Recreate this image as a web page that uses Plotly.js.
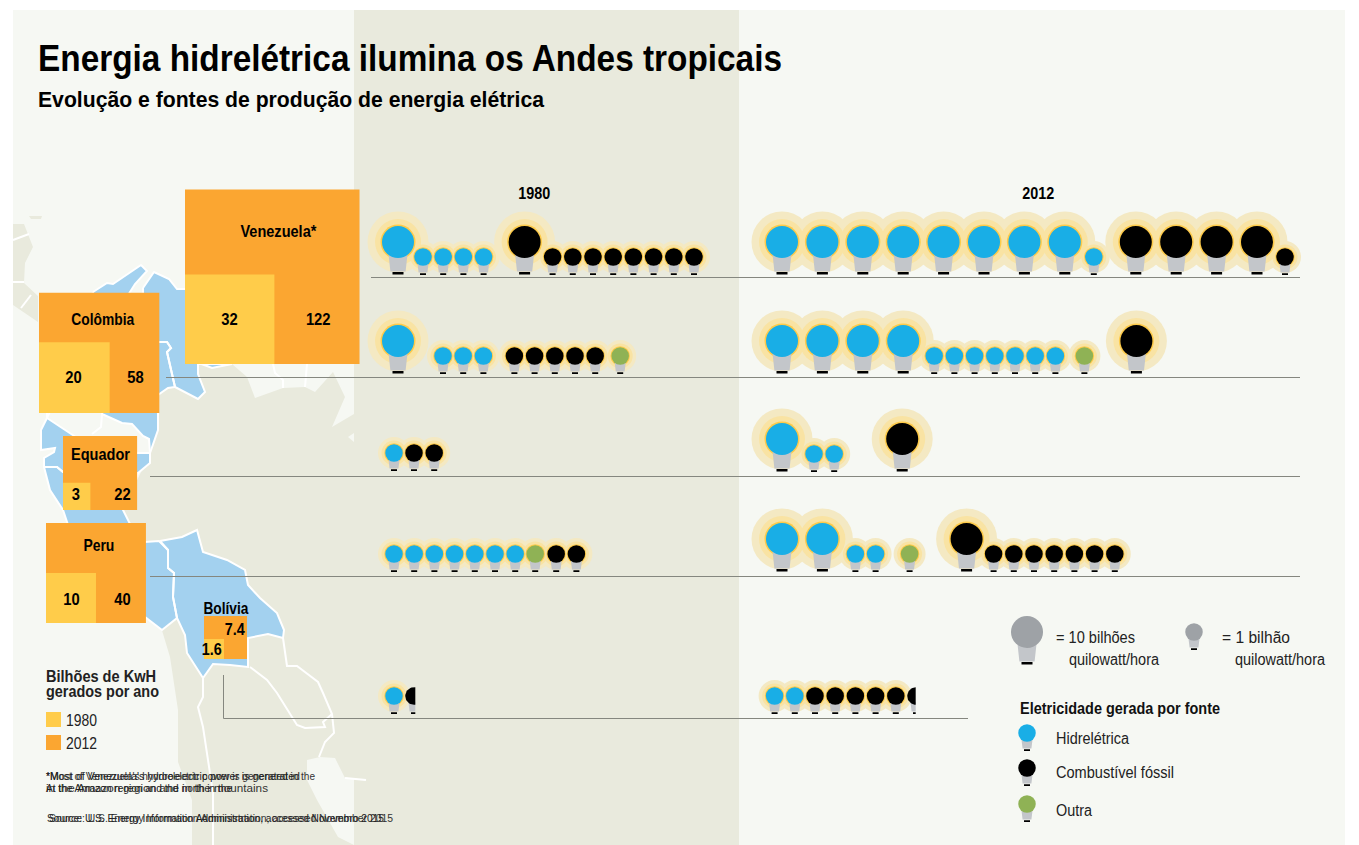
<!DOCTYPE html>
<html>
<head>
<meta charset="utf-8">
<script src="https://cdn.plot.ly/plotly-3.0.1.min.js"></script>
<style>html,body{margin:0;padding:0;background:#fff}#chart{width:1359px;height:845px}</style>
</head>
<body>
<div id="chart"></div>
<script>
// ---- Data: billions of kWh per year, read from the squares and counted in bulbs ----
const countries = ['Venezuela*', 'Colômbia', 'Equador', 'Peru', 'Bolívia'];
const total1980 = [32, 20, 3, 10, 1.6];
const total2012 = [122, 58, 22, 40, 7.4];
const total1980Labels = ['32', '20', '3', '10', '1.6'];
const total2012Labels = ['122', '58', '22', '40', '7.4'];

const venezuela1980Hydro = [10, 1, 1, 1, 1];
const venezuela1980Fossil = [10, 1, 1, 1, 1, 1, 1, 1, 1];
const venezuela2012Hydro = [10, 10, 10, 10, 10, 10, 10, 10, 1];
const venezuela2012Fossil = [10, 10, 10, 10, 1];
const colombia1980Hydro = [10, 1, 1, 1];
const colombia1980Fossil = [1, 1, 1, 1, 1];
const colombia1980Other = [1];
const colombia2012Hydro = [10, 10, 10, 10, 1, 1, 1, 1, 1, 1, 1];
const colombia2012Other = [1];
const colombia2012Fossil = [10];
const ecuador1980Hydro = [1];
const ecuador1980Fossil = [1, 1];
const ecuador2012Hydro = [10, 1, 1];
const ecuador2012Fossil = [10];
const peru1980Hydro = [1, 1, 1, 1, 1, 1, 1];
const peru1980Other = [1];
const peru1980Fossil = [1, 1];
const peru2012Hydro = [10, 10, 1, 1];
const peru2012Other = [1];
const peru2012Fossil = [10, 1, 1, 1, 1, 1, 1, 1];
const bolivia1980Hydro = [1];
const bolivia1980Fossil = [0.6];
const bolivia2012Hydro = [1, 1];
const bolivia2012Fossil = [1, 1, 1, 1, 1, 0.4];

// ---- Layout of the rows (pixels of the 1359x845 canvas used as axis units) ----
const HYDRO = 'Hidrelétrica', FOSSIL = 'Combustível fóssil', OTHER = 'Outra', REF = 'Escala';
const headColor = {[HYDRO]: '#19AEE6', [FOSSIL]: '#000000', [OTHER]: '#8FB255', [REF]: '#9EA2A6'};
const rows = [
  {base: 278, start: 398, joins: [25, 41, 28], groups: [[HYDRO, venezuela1980Hydro], [FOSSIL, venezuela1980Fossil]]},
  {base: 278, start: 782, joins: [29, 42, 28], groups: [[HYDRO, venezuela2012Hydro], [FOSSIL, venezuela2012Fossil]]},
  {base: 377, start: 398, joins: [45, 31, 25], groups: [[HYDRO, colombia1980Hydro], [FOSSIL, colombia1980Fossil], [OTHER, colombia1980Other]]},
  {base: 377, start: 782, joins: [31, 29, 52], groups: [[HYDRO, colombia2012Hydro], [OTHER, colombia2012Other], [FOSSIL, colombia2012Fossil]]},
  {base: 474, start: 394, joins: [20], groups: [[HYDRO, ecuador1980Hydro], [FOSSIL, ecuador1980Fossil]]},
  {base: 475, start: 782, joins: [32, 68], groups: [[HYDRO, ecuador2012Hydro], [FOSSIL, ecuador2012Fossil]]},
  {base: 575, start: 394, joins: [20, 21], groups: [[HYDRO, peru1980Hydro], [OTHER, peru1980Other], [FOSSIL, peru1980Fossil]]},
  {base: 575, start: 782, joins: [33, 34, 57, 27], groups: [[HYDRO, peru2012Hydro], [OTHER, peru2012Other], [FOSSIL, peru2012Fossil]]},
  {base: 717, start: 394, joins: [20], groups: [[HYDRO, bolivia1980Hydro], [FOSSIL, bolivia1980Fossil]]},
  {base: 717, start: 774.6, joins: [20.2], groups: [[HYDRO, bolivia2012Hydro], [FOSSIL, bolivia2012Fossil]]}
];
const legendBulbs = [
  {x: 1027, base: 668, kind: REF, big: true},
  {x: 1194, base: 653, kind: REF, big: false},
  {x: 1027, base: 754, kind: HYDRO, big: false},
  {x: 1027, base: 789, kind: FOSSIL, big: false},
  {x: 1027, base: 825, kind: OTHER, big: false}
];
const rowLines = [
  [[371, 1300], [277.5, 277.5]],
  [[166, 1300], [377.5, 377.5]],
  [[150, 1300], [476.5, 476.5]],
  [[150, 1300], [576.5, 576.5]],
  [[223.5, 223.5, 968], [675, 718.5, 718.5]]
];
const boxCorner = [[185, 364], [39, 413], [63, 510], [46, 623], [204, 659]];
const boxScale = 15.8; // px of side per sqrt(billion kWh)

// ---- Decorative map outlines ----
const landOutlines = [
  [[13,224],[24,224],[33,247],[25,263],[24,283],[38,296],[38,322],[13,305]],
  [[29,216],[42,216],[41,219],[31,219]],
  [[150,380],[200,358],[354,358],[354,845],[192,845],[192,800],[178,762],[178,710],[170,657],[162,630],[130,524],[123,510],[150,453],[158,430],[158,395]]
];
const oceanOutlines = [
  [[232,364],[247,377],[255,398],[283,388],[305,387],[315,392],[333,372],[345,397],[332,427],[354,414],[354,364]],
  [[348,437],[354,433],[354,442]],
  [[307,760],[320,757],[335,758],[345,778],[354,779],[354,845],[338,837],[317,800],[307,780]]
];
const blueOutlines = [
  [[143,288],[154,272],[169,279],[177,289],[190,289],[190,360],[207,366],[212,368],[232,364],[198,364],[198,374],[205,392],[198,399],[175,387],[167,352],[171,348],[167,342],[158,342],[143,342]],
  [[93,292],[107,283],[113,284],[141,265],[147,271],[135,284],[125,300],[143,300],[158,342],[167,342],[171,348],[167,352],[175,387],[168,388],[158,395],[158,430],[150,453],[100,453],[47,418],[60,390],[93,300]],
  [[47,405],[47,418],[41,430],[41,450],[55,448],[54,452],[44,458],[44,467],[57,467],[63,472],[138,473],[150,463],[150,453],[149,439],[143,436],[132,424],[122,423],[102,414],[102,405]],
  [[44,467],[57,467],[63,472],[138,473],[123,510],[130,524],[145,542],[159,541],[168,550],[168,568],[174,573],[173,597],[177,618],[162,630],[145,617],[70,610],[68,525],[63,510],[50,490]],
  [[160,541],[182,537],[197,530],[203,552],[227,560],[245,570],[248,585],[260,598],[277,613],[284,630],[283,638],[268,634],[248,638],[248,667],[230,665],[213,664],[203,678],[187,653],[185,635],[177,618],[173,597],[174,573],[168,568],[168,550]]
];
const whiteLines = [
  [[13,240],[29,234]],
  [[13,282],[24,282]],
  [[31,295],[21,308]],
  [[102,414],[101,427],[92,434]],
  [[273,364],[275,373],[283,380],[283,388]],
  [[307,364],[305,387]],
  [[250,667],[267,680],[277,693],[288,710],[297,725],[305,728],[325,727],[323,722],[332,714]],
  [[283,638],[287,666],[297,666],[318,682],[323,693],[332,714],[334,733],[325,742],[319,757]],
  [[203,678],[203,697],[198,707],[203,727],[213,793],[213,845]],
  [[345,778],[366,780]]
];

// ---- Helpers ----
function polyTrace(list, fillcolor, lineColor, lineWidth, name) {
  const xs = [], ys = [];
  list.forEach(p => { p.forEach(c => { xs.push(c[0]); ys.push(c[1]); }); xs.push(p[0][0]); ys.push(p[0][1]); xs.push(null); ys.push(null); });
  return {type: 'scatter', mode: 'lines', x: xs, y: ys, fill: 'toself', fillcolor: fillcolor, connectgaps: false,
          line: {color: lineColor || fillcolor, width: lineWidth || 0}, hoverinfo: 'skip', name: name, showlegend: false};
}
function lineTrace(list, color, width, name) {
  const xs = [], ys = [];
  list.forEach(p => { p[0].forEach((v, i) => { xs.push(v); ys.push(p[1][i]); }); xs.push(null); ys.push(null); });
  return {type: 'scatter', mode: 'lines', x: xs, y: ys, line: {color: color, width: width}, hoverinfo: 'skip', name: name, showlegend: false};
}
function rectangle(x0, y0, x1, y1) { return [[x0, y0], [x1, y0], [x1, y1], [x0, y1]]; }

// Walk along each row turning its values into bulbs
const bulbs = [];
rows.forEach(row => {
  let x = row.start, prev = null, join = 0;
  row.groups.forEach(g => {
    g[1].forEach(v => {
      if (prev) {
        if (prev.kind === g[0] && prev.value === v) x += v === 10 ? 40.4 : 20.2;
        else if (prev.kind === g[0] && v < 1) x += 20.2;
        else { x += row.joins[Math.min(join, row.joins.length - 1)]; join++; }
      }
      prev = {kind: g[0], value: v};
      bulbs.push({x: x, base: row.base, kind: g[0], big: v === 10, part: v < 1 ? v : 0});
    });
  });
});

function headY(b) { return b.base - (b.big ? 36 : 21); }
function bodyParts(b) {
  const hy = headY(b);
  const d = b.big ? {tw: 9.5, bw: 7.6, t: 12, h: 29.5, fw: 5.5, f0: 30, f1: 32.5} : {tw: 5.6, bw: 4.4, t: 6, h: 15.5, fw: 3, f0: 16.2, f1: 18};
  const clip = b.part ? b.x - 8.5 + 5 + b.part * 8 : Infinity;
  const c = v => Math.min(v, clip);
  return {
    body: [[b.x - d.tw, hy + d.t], [c(b.x + d.tw), hy + d.t], [c(b.x + d.bw), hy + d.h], [b.x - d.bw, hy + d.h]],
    foot: [[b.x - d.fw, hy + d.f0], [c(b.x + d.fw), hy + d.f0], [c(b.x + d.fw), hy + d.f1], [b.x - d.fw, hy + d.f1]],
    clip: clip
  };
}
const whole = bulbs.filter(b => !b.part);
const parts = bulbs.filter(b => b.part);

function haloTrace(bigSize, smallSize, color, name) {
  return {type: 'scatter', mode: 'markers', x: whole.map(b => b.x), y: whole.map(headY),
          marker: {color: color, opacity: 1, size: whole.map(b => b.big ? bigSize : smallSize), line: {width: 0}},
          hoverinfo: 'skip', name: name, showlegend: false};
}
function headTrace(kind) {
  const all = whole.filter(b => b.kind === kind).concat(legendBulbs.filter(b => b.kind === kind));
  return {type: 'scatter', mode: 'markers', x: all.map(b => b.x), y: all.map(headY),
          marker: {color: headColor[kind], opacity: 1, size: all.map(b => b.big ? 32 : 17.5), line: {width: 0}},
          hoverinfo: 'text', text: all.map(() => kind), name: kind, showlegend: false};
}
function partHead(b) {
  const hy = headY(b), r = 8.75, clip = bodyParts(b).clip, pts = [];
  const a = Math.acos(Math.min(1, (clip - b.x) / r));
  for (let i = 0; i <= 24; i++) {
    const t = a + (2 * Math.PI - 2 * a) * i / 24;
    pts.push([b.x + r * Math.cos(t), hy - r * Math.sin(t)]);
  }
  return pts;
}

const allBulbBodies = bulbs.concat(legendBulbs);
const traces = [];
// map
traces.push(polyTrace(landOutlines, '#E9EADD', null, 0, 'terra'));
traces.push(polyTrace(oceanOutlines, '#F6F8F3', null, 0, 'oceano'));
traces.push(polyTrace(blueOutlines, '#A3D1EF', '#FFFFFF', 2, 'Andes'));
traces.push(lineTrace(whiteLines.map(l => [l.map(c => c[0]), l.map(c => c[1])]), '#FFFFFF', 2, 'fronteiras'));
// row rules
traces.push(lineTrace(rowLines, '#85877F', 1, 'linhas'));
// squares, from the totals
const boxes12 = [], boxes80 = [];
total2012.forEach((v, i) => {
  const s = boxScale * Math.sqrt(v), c = boxCorner[i];
  boxes12.push(rectangle(c[0], c[1] - s, c[0] + s, c[1]));
});
total1980.forEach((v, i) => {
  const s = boxScale * Math.sqrt(v), c = boxCorner[i];
  boxes80.push(rectangle(c[0], c[1] - s, c[0] + s, c[1]));
});
traces.push(polyTrace(boxes12, '#FBA631', null, 0, '2012'));
traces.push(polyTrace(boxes80, '#FFCC4A', null, 0, '1980'));
// legend swatches
traces.push(polyTrace([rectangle(46, 712, 61, 727)], '#FFCC4A', null, 0, '1980'));
traces.push(polyTrace([rectangle(46, 735, 61, 750)], '#FBA631', null, 0, '2012'));
// bulbs
traces.push(haloTrace(61, 32, '#F4E9C3', 'halo 1'));
traces.push(haloTrace(46, 25, '#F9E3A3', 'halo 2'));
traces.push(haloTrace(35, 19.5, '#FECB4A', 'halo 3'));
traces.push(polyTrace(allBulbBodies.map(b => bodyParts(b).body), '#C3C6CA', null, 0, 'corpo'));
traces.push(polyTrace(allBulbBodies.map(b => bodyParts(b).foot), '#000000', null, 0, 'base'));
[HYDRO, FOSSIL, OTHER, REF].forEach(k => traces.push(headTrace(k)));
parts.forEach(b => traces.push(polyTrace([partHead(b)], headColor[b.kind], null, 0, b.kind)));

// ---- Texts ----
const SANS = '"Liberation Sans", Arial, sans-serif';
function label(text, x, y, size, opts) {
  opts = opts || {};
  return {text: text, x: x, y: y, xref: 'x', yref: 'y', showarrow: false, borderpad: 0, borderwidth: 0,
          xanchor: opts.anchor || 'center', yanchor: 'middle', align: opts.anchor || 'center',
          font: {family: SANS, size: size, color: opts.color || '#000000', weight: opts.bold ? 700 : 400},
          _w: opts.w};
}
const nameAt = [[278, 231], [103, 319], [100, 454], [99, 545], [226, 608]];
const nameW = [76, 63, 59, 31, 45];
const a80At = [[229, 319], [73.5, 377], [75.5, 494], [71, 599.5], [212, 649]];
const a12At = [[318, 319], [135, 377], [122, 494], [122, 599.5], [235, 629]];
const LEFT = {anchor: 'left', color: '#222'};
const numberWidth = s => s.split('').reduce((w, ch) => w + (ch === '.' ? 3.6 : 8.2), 0);
const rawLabels = [
  label('Evolução e fontes de produção de energia elétrica', 38, 100, 21.5, {bold: true, anchor: 'left', w: 506}),
  label('1980', 534, 193, 16.5, {bold: true, w: 32}),
  label('2012', 1038, 193, 16.5, {bold: true, w: 32}),
  label('Bilhões de KwH', 46, 676, 16, {bold: true, anchor: 'left', color: '#222', w: 110}),
  label('gerados por ano', 46, 691, 16, {bold: true, anchor: 'left', color: '#222', w: 113}),
  label('1980', 66, 720, 16.5, Object.assign({w: 31}, LEFT)),
  label('2012', 66, 743, 16.5, Object.assign({w: 31}, LEFT)),
  label("*Most of Venezuela's hydroelectric power is generated in the", 46, 775.5, 10.5, {anchor: 'left', color: '#333', w: 269}),
  label("*Most of Venezuela's hydroelectric power is generated", 46, 775.5, 10.5, {anchor: 'left', color: '#222', w: 254}),
  label('in the Amazon region and in the mountains', 46, 788, 10.5, {anchor: 'left', color: '#333', w: 222}),
  label('At the Amazon region and the north in the', 46, 788, 10.5, {anchor: 'left', color: '#222', w: 186}),
  label('Source: U.S. Energy Information Administration, accessed November 2015', 49, 818, 10.5, {anchor: 'left', color: '#333', w: 344}),
  label('Source: U.S. Energy Information Administration, accessed Novembro 2015', 47, 818, 10.5, {anchor: 'left', color: '#222', w: 337}),
  label('= 10 bilhões', 1056, 637, 16, Object.assign({w: 79}, LEFT)),
  label('quilowatt/hora', 1069, 659, 16, Object.assign({w: 90}, LEFT)),
  label('= 1 bilhão', 1222, 637, 16, Object.assign({w: 68}, LEFT)),
  label('quilowatt/hora', 1235, 659, 16, Object.assign({w: 90}, LEFT)),
  label('Eletricidade gerada por fonte', 1020, 708, 16, {bold: true, anchor: 'left', color: '#111', w: 200}),
  label(HYDRO, 1056, 738, 16, Object.assign({w: 73}, LEFT)),
  label(FOSSIL, 1056, 772, 16, Object.assign({w: 118}, LEFT)),
  label(OTHER, 1056, 810, 16, Object.assign({w: 36}, LEFT))
];
countries.forEach((c, i) => {
  rawLabels.push(label(c, nameAt[i][0], nameAt[i][1], 17, {bold: true, w: nameW[i]}));
  rawLabels.push(label(total1980Labels[i], a80At[i][0], a80At[i][1], 17, {bold: true, w: numberWidth(total1980Labels[i])}));
  rawLabels.push(label(total2012Labels[i], a12At[i][0], a12At[i][1], 17, {bold: true, w: numberWidth(total2012Labels[i])}));
});
const widths = rawLabels.map(l => l._w);
const annotations = rawLabels.map(l => { const c = Object.assign({}, l); delete c._w; return c; });

const layout = {
  width: 1359, height: 845, margin: {l: 0, r: 0, t: 0, b: 0, pad: 0},
  paper_bgcolor: '#FFFFFF', plot_bgcolor: '#FFFFFF', showlegend: false, hovermode: 'closest',
  title: {text: 'Energia hidrelétrica ilumina os Andes tropicais', x: 38 / 1359, xanchor: 'left',
          y: 1 - 58 / 845, yanchor: 'middle', font: {family: SANS, size: 37, color: '#000000', weight: 700}},
  xaxis: {range: [0, 1359], visible: false, fixedrange: true},
  yaxis: {range: [845, 0], visible: false, fixedrange: true},
  shapes: [
    {type: 'rect', xref: 'x', yref: 'y', x0: 13, x1: 1345, y0: 10, y1: 845, fillcolor: '#F6F8F3', line: {width: 0}, layer: 'below'},
    {type: 'rect', xref: 'x', yref: 'y', x0: 354, x1: 739, y0: 10, y1: 845, fillcolor: '#E9EADD', line: {width: 0}, layer: 'below'}
  ],
  annotations: annotations
};
Plotly.newPlot('chart', traces, layout, {displayModeBar: false, responsive: false}).then(gd => {
  // the reference's condensed typeface is not installed: fit each text to its width in the reference
  const squeeze = (el, w) => { if (el && w) { el.setAttribute('textLength', w); el.setAttribute('lengthAdjust', 'spacingAndGlyphs'); } };
  squeeze(gd.querySelector('.gtitle'), 744);
  gd.querySelectorAll('.annotation').forEach(a => {
    squeeze(a.querySelector('text'), widths[+a.getAttribute('data-index')]);
  });
});
</script>
</body>
</html>
